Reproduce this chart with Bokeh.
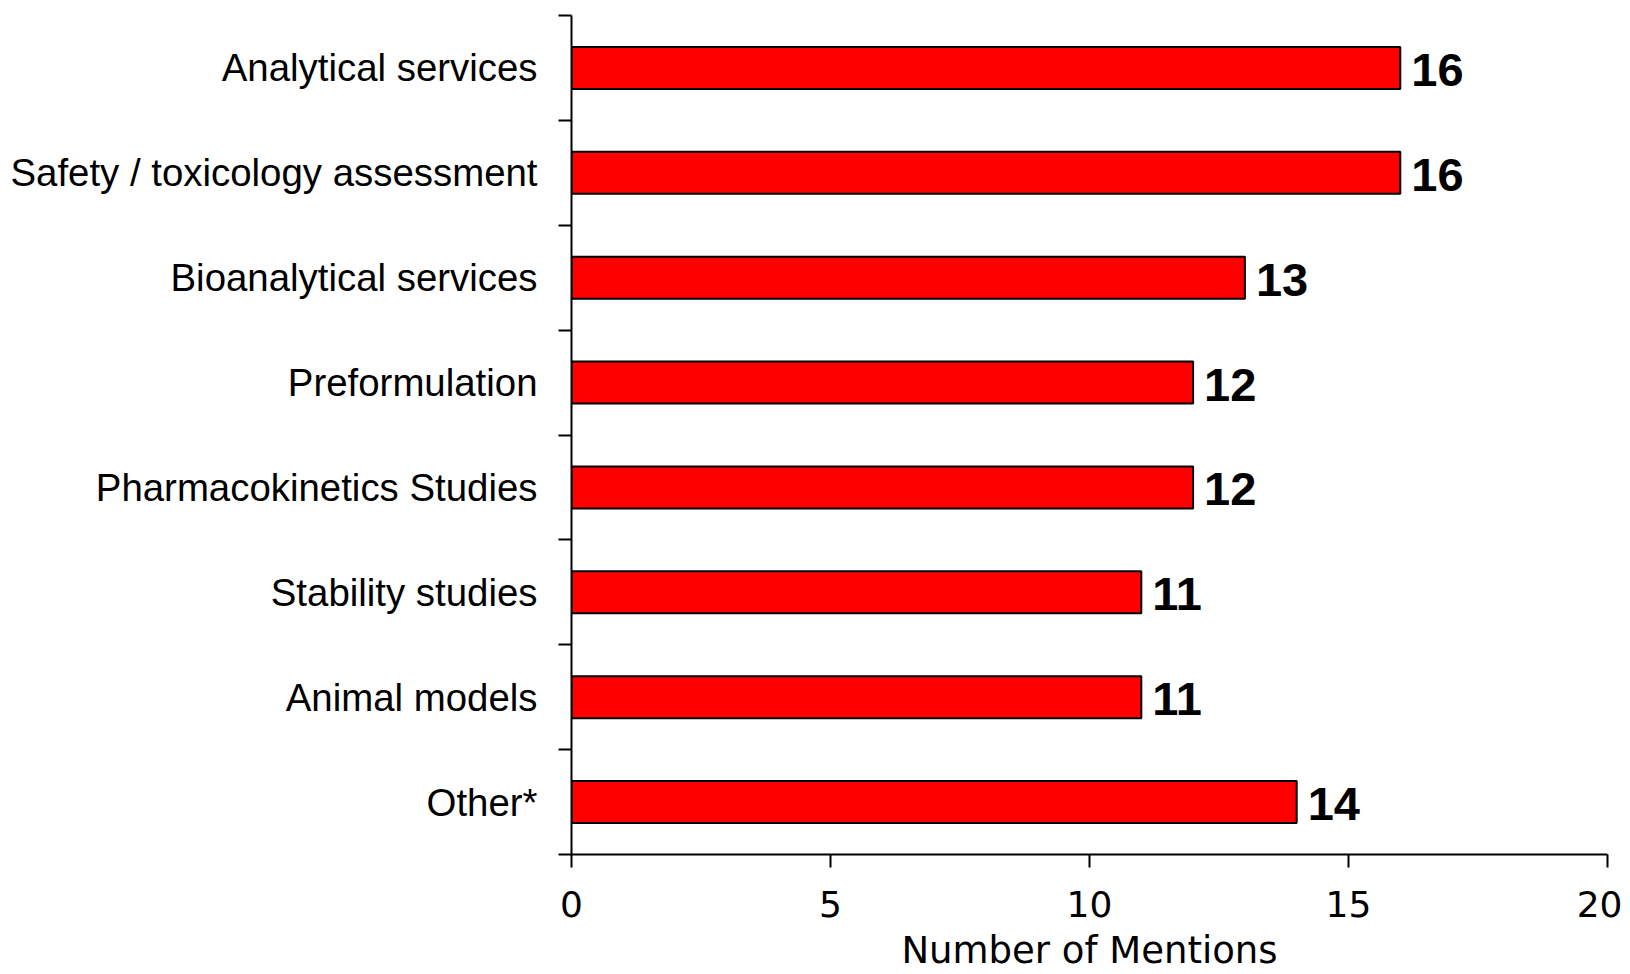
import numpy as np
from bokeh.plotting import figure
from bokeh.models import Range1d, FixedTicker, ColumnDataSource
from bokeh.core.properties import value
from bokeh.embed import file_html
from bokeh.resources import INLINE

categories = ["Analytical services", "Safety / toxicology assessment", "Bioanalytical services",
              "Preformulation", "Pharmacokinetics Studies", "Stability studies", "Animal models", "Other*"]
mentions = [16, 16, 13, 12, 12, 11, 11, 14]
x_ticks = [0, 5, 10, 15, 20]
x_title = "Number of Mentions"

n = len(categories)
ypos = [n - 1 - i for i in range(n)]
src = ColumnDataSource(dict(y=ypos, v=mentions, lab=[str(m) for m in mentions], cat=categories))

p = figure(width=1622, height=974, output_backend="svg", toolbar_location=None,
           x_range=Range1d(x_ticks[0], x_ticks[-1]), y_range=Range1d(-0.5, n - 0.5),
           min_border_left=571, min_border_right=15, min_border_top=15, min_border_bottom=120)
p.outline_line_color = None
p.grid.visible = False
p.background_fill_color = "white"

p.hbar(y="y", right="v", left=0, height=0.4, source=src,
       fill_color="#FF0000", line_color="black", line_width=2)
p.text(x="v", y="y", text="lab", source=src, x_offset=11, y_offset=2,
       text_baseline="middle", text_align="left",
       text_font=value("Liberation Sans"), text_font_style="bold",
       text_font_size="47px", text_color="black")

# x axis
xa = p.xaxis[0]
xa.ticker = FixedTicker(ticks=x_ticks)
xa.major_tick_out = 13
xa.major_tick_in = 0
xa.minor_tick_out = 0
xa.minor_tick_in = 0
xa.axis_line_width = 2
xa.major_tick_line_width = 2
xa.axis_line_color = "black"
xa.major_tick_line_color = "black"
xa.major_label_text_font = "DejaVu Sans"
xa.major_label_text_font_size = "36px"
xa.major_label_text_color = "black"
xa.major_label_standoff = 23
xa.axis_label = x_title
xa.axis_label_text_font = "DejaVu Sans"
xa.axis_label_text_font_size = "37px"
xa.axis_label_text_font_style = "normal"
xa.axis_label_text_color = "black"
xa.axis_label_standoff = 9

# y axis: labels at centers, ticks at boundaries
ya = p.yaxis[0]
ya.ticker = FixedTicker(ticks=ypos, minor_ticks=[k - 0.5 for k in range(n + 1)])
ya.major_label_overrides = {y: c for y, c in zip(ypos, categories)}
ya.major_tick_out = 0
ya.major_tick_in = 0
ya.minor_tick_out = 13
ya.minor_tick_in = 0
ya.minor_tick_line_width = 2
ya.minor_tick_line_color = "black"
ya.axis_line_width = 2
ya.axis_line_color = "black"
ya.major_label_text_font = "Liberation Sans"
ya.major_label_text_font_size = "38.4px"
ya.major_label_text_color = "black"
ya.major_label_standoff = 21

open("out.html", "w").write(file_html(p, INLINE))
